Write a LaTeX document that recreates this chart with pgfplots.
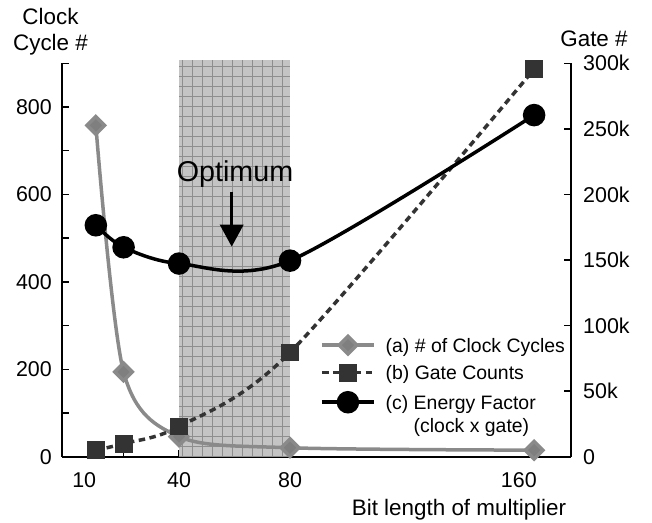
\documentclass[border=0pt]{standalone}
\usepackage{fontspec}
\setmainfont{Liberation Sans}
\usepackage{pgfplots}
\usepackage{pgfplotstable}
\pgfplotsset{compat=1.18}
\usetikzlibrary{arrows.meta}

\definecolor{clockgray}{HTML}{8A8A8A}
\definecolor{gatedark}{HTML}{333333}
\definecolor{bandfill}{HTML}{C4C4C4}
\definecolor{bandgrid}{HTML}{8E8E8E}

% clock cycles (left axis)
\pgfplotstableread{
x y
10 758
20 194
40 46
80 20.5
168 15
}\clockdata
% gate counts, in thousands (right axis)
\pgfplotstableread{
x y
10 5
20 10
40 23
80 79.5
168 295.5
}\gatedata
% energy factor, right axis scale
\pgfplotstableread{
x y
10 176.5
20 159.7
40 147.3
80 149.5
168 260.5
}\energydata

\pgfplotsset{
  common/.style={
    scale only axis, width=509bp, height=393.4bp,
    at={(62bp,-456.7bp)}, anchor=south west,
    xmin=-2.2, xmax=181.3,
    axis line style={line width=2bp},
    tick style={line width=1.5bp, black},
    major tick length=7bp,
    tick align=inside,
    tick label style={font=\fontsize{21.5}{25}\selectfont},
    /pgf/number format/assume math mode=true,
  },
  clockstyle/.style={clockgray, line width=3.5bp, mark=square*, mark size=6.2bp,
    mark options={rotate=45, solid, fill=clockgray!92!black, draw=none}},
}

\begin{document}
\begin{tikzpicture}
\begin{axis}[common,
  ymin=0, ymax=900,
  axis x line*=bottom, axis y line*=left,
  ytick={0,100,...,900}, yticklabels={0,,200,,400,,600,,800,},
  xtick={10,20,40,80,168}, xticklabels={},
  extra x ticks={5.8,40,80,162.5}, extra x tick labels={10,40,80,160},
  extra x tick style={major tick length=0pt},
  yticklabel style={inner sep=0pt, xshift=-10bp},
  xticklabel style={inner sep=0pt, yshift=-16bp},
  clip=false]
\fill[bandfill] (axis cs:40,0) rectangle (axis cs:80,907);
\begin{scope}
\clip (axis cs:40,0) rectangle (axis cs:80,907);
\draw[bandgrid, line width=0.8bp, step=10bp] (axis cs:40,0) grid (axis cs:80,907);
\end{scope}
\addplot[clockstyle, smooth] table {\clockdata};
\end{axis}

\begin{axis}[common,
  ymin=0, ymax=300,
  axis x line=none, axis y line*=right,
  ytick={0,50,...,300}, yticklabels={0,50k,100k,150k,200k,250k,300k},
  yticklabel style={inner sep=0pt, xshift=12bp},
  legend style={draw=none, fill=none, inner sep=0pt,
    at={(0.5069,0.3072)}, anchor=north west,
    font=\fontsize{19.5}{23}\selectfont,
    nodes={anchor=base west, inner sep=2bp},
    row sep=8bp, column sep=8bp},
  legend image code/.code={\draw[mark repeat=2, mark phase=2, #1]
    plot coordinates {(0bp,7bp) (26bp,7bp) (52bp,7bp)};},
  clip=false]
\addlegendimage{clockstyle}
\addlegendentry{(a) \# of Clock Cycles}
\addplot[gatedark, line width=3.5bp, dash pattern=on 6.5bp off 4.5bp, smooth,
  mark=square*, mark size=7.2bp, mark options={solid, fill=gatedark}] table {\gatedata};
\addlegendentry{(b) Gate Counts}
\addplot[black, line width=3.5bp, smooth, mark=*, mark size=9.5bp,
  mark options={solid}] table {\energydata};
\addlegendentry{\begin{tabular}[t]{@{}l@{}}(c) Energy Factor\\\hspace{28bp}(clock x gate)\end{tabular}}
\end{axis}

\node[anchor=base, font=\fontsize{22.5}{26}\selectfont] at (50.5bp,-24.5bp) {Clock};
\node[anchor=base, font=\fontsize{22.5}{26}\selectfont] at (50.5bp,-50.5bp) {Cycle \#};
\node[anchor=base, font=\fontsize{22.5}{26}\selectfont] at (594bp,-46bp) {Gate \#};
\node[anchor=base, font=\fontsize{22.5}{26}\selectfont] at (459bp,-515bp) {Bit length of multiplier};
\node[anchor=base, font=\fontsize{28.8}{32}\selectfont] at (235bp,-181.7bp) {Optimum};
\draw[line width=3.5bp, -{Triangle[width=23bp,length=22bp]}] (231.7bp,-191.7bp) -- (231.7bp,-246.7bp);

\pgfresetboundingbox
\path[use as bounding box] (0,0) rectangle (652bp,-523bp);
\end{tikzpicture}
\end{document}
